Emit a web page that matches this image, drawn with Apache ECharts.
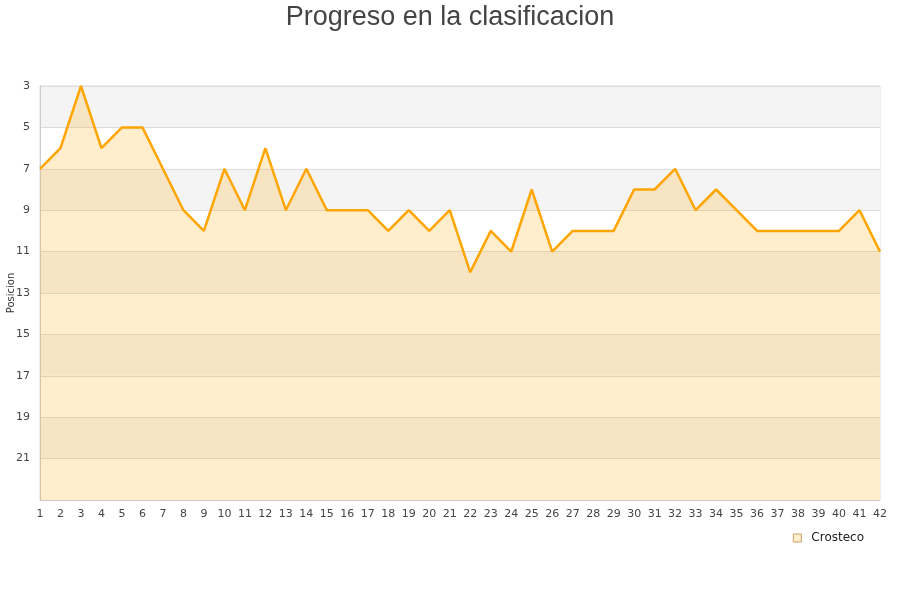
<!DOCTYPE html>
<html>
<head>
<meta charset="utf-8">
<script src="https://cdn.jsdelivr.net/npm/echarts@6/dist/echarts.min.js"></script>
<style>html,body{margin:0;padding:0;background:#fff}#c{width:900px;height:600px}</style>
</head>
<body>
<div id="c"></div>
<script>
var categories = [];
for (var i = 1; i <= 42; i++) categories.push(String(i));
var seriesName = 'Crosteco';
var positions = [7,6,3,6,5,5,7,9,10,7,9,6,9,7,9,9,9,10,9,10,9,12,10,11,8,11,10,10,10,8,8,7,9,8,9,10,10,10,10,10,9,11];

var chart = echarts.init(document.getElementById('c'));
chart.setOption({
  animation: false,
  title: {
    text: 'Progreso en la clasificacion',
    left: 'center',
    top: -1,
    textStyle: { fontFamily: 'Liberation Sans', fontSize: 27, fontWeight: 'normal', color: '#444' }
  },
  legend: {
    data: [{ name: seriesName, icon: 'rect', itemStyle: { color: '#FFEDCC', borderColor: '#C9A36A', borderWidth: 1 } }],
    right: 31,
    top: 527,
    itemWidth: 8,
    itemHeight: 8,
    textStyle: { fontFamily: 'DejaVu Sans', fontSize: 12, color: '#222', padding: [0, 0, 0, 5] }
  },
  grid: { left: 40, right: 20, top: 86, bottom: 100, containLabel: false, outerBoundsMode: 'none', show: true, borderColor: '#ddd', borderWidth: 1 },
  xAxis: {
    type: 'category',
    data: categories,
    boundaryGap: false,
    axisLine: { lineStyle: { color: '#ccc' } },
    axisTick: { show: false },
    axisLabel: { interval: 0, fontFamily: 'DejaVu Sans', fontSize: 11, color: '#444', margin: 9 },
    splitLine: { show: false }
  },
  yAxis: {
    type: 'value',
    inverse: true,
    min: 3,
    max: 23,
    interval: 2,
    name: 'Posicion',
    nameLocation: 'middle',
    nameGap: 24,
    nameMoveOverlap: false,
    nameTextStyle: { fontFamily: 'DejaVu Sans', fontSize: 10, color: '#333' },
    axisLine: { show: true, lineStyle: { color: '#ccc' } },
    axisTick: { show: false },
    axisLabel: {
      fontFamily: 'DejaVu Sans', fontSize: 11, color: '#444', margin: 10,
      formatter: function (v) { return v === 23 ? '' : v; }
    },
    splitLine: { show: true, lineStyle: { color: '#ddd' } },
    splitArea: { show: true, areaStyle: { color: ['#f4f4f4', '#ffffff'] } }
  },
  series: [{
    name: seriesName,
    type: 'line',
    data: positions,
    symbol: 'none',
    lineStyle: { color: '#FFA500', width: 2.5 },
    itemStyle: { color: '#FFA500' },
    areaStyle: { color: '#FFA500', opacity: 0.2, origin: 'end' }
  }]
});
</script>
</body>
</html>
